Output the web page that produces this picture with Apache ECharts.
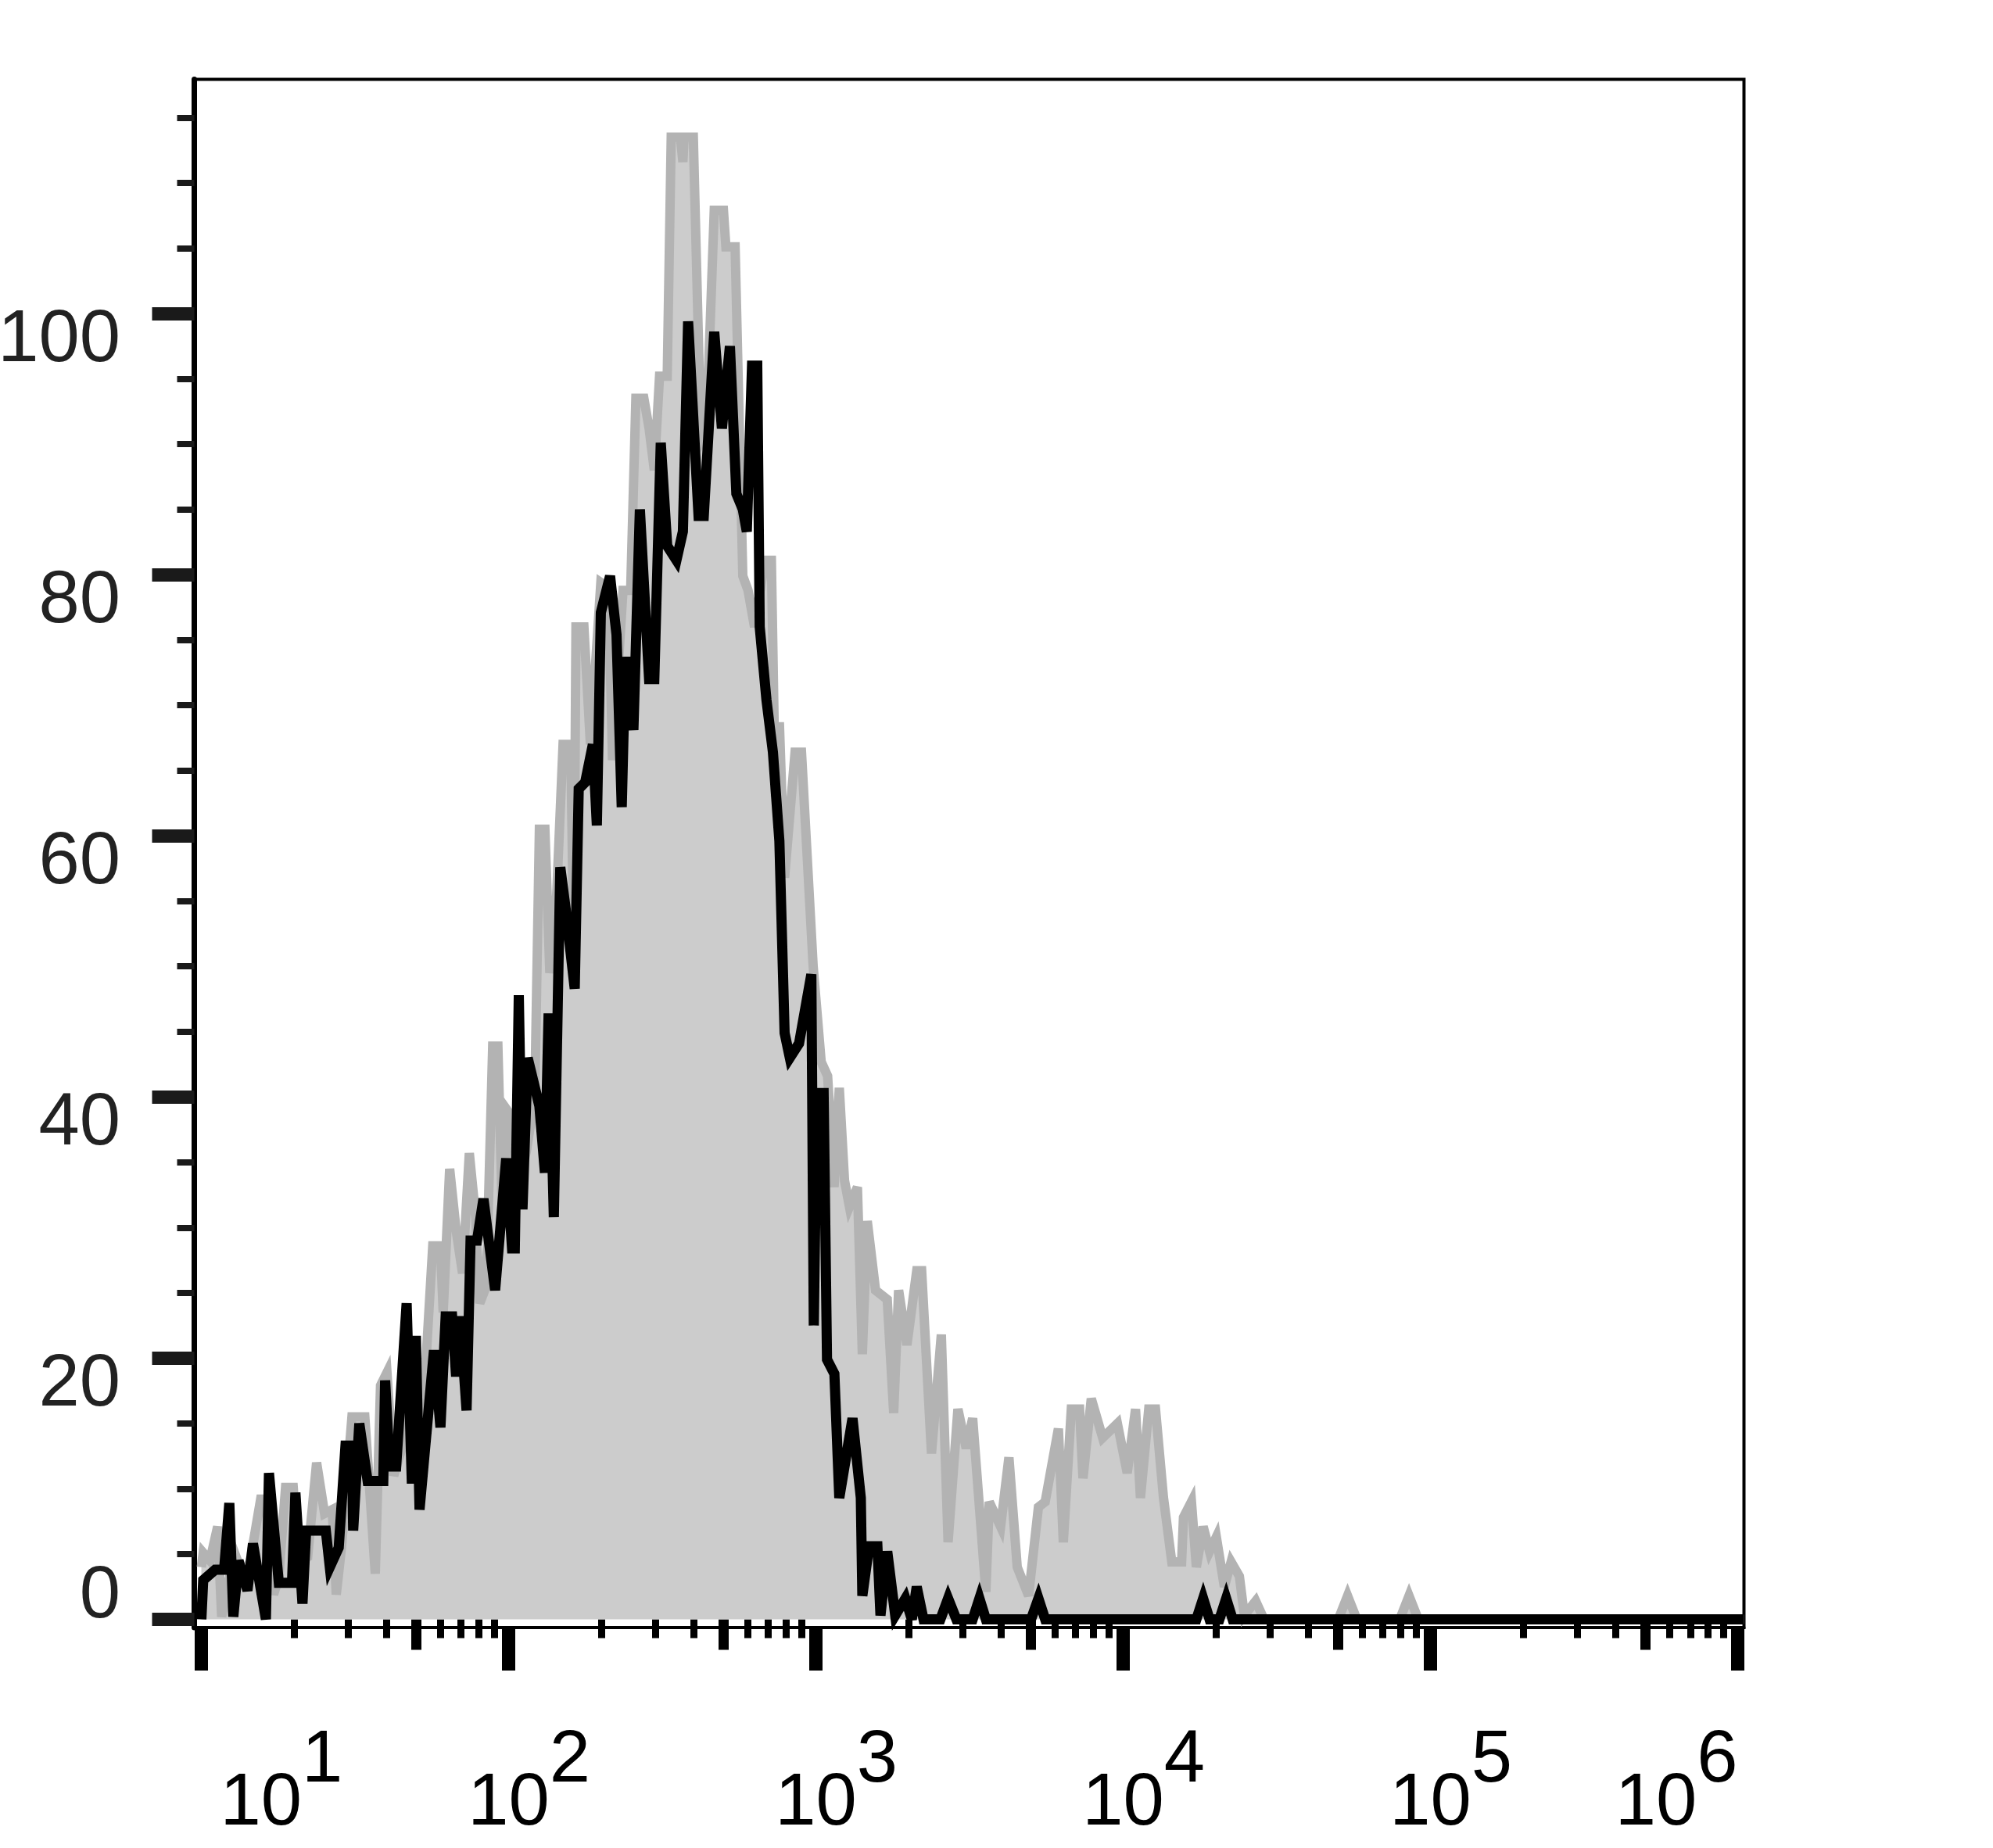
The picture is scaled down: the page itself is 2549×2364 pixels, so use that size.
<!DOCTYPE html>
<html>
<head>
<meta charset="utf-8">
<script src="https://cdn.jsdelivr.net/npm/echarts@6/dist/echarts.min.js"></script>
<style>
  html, body { margin: 0; padding: 0; background: #fff; }
  #chart { width: 2549px; height: 2364px; }
</style>
</head>
<body>
<div id="chart"></div>
<script>
// Fluorescence intensity is given as decade exponent (10^e); counts on y.
const xDecades = [1, 2, 3, 4, 5, 6];
const yMajorTicks = [0, 20, 40, 60, 80, 100];
const yLabelsUpper = [20, 40, 60, 80, 100];
const yLabelsLower = [0];
const yMinorTicks = [5, 10, 15, 25, 30, 35, 45, 50, 55, 65, 70, 75, 85, 90, 95, 105, 110, 115];

// Gray (filled) histogram: exponent and count
const grayE = [1.000,1.006,1.028,1.053,1.066,1.108,1.138,1.159,1.193,1.210,1.235,1.252,1.274,1.299,1.316,1.346,1.375,1.401,1.426,1.439,1.456,1.490,1.532,1.566,1.583,1.604,1.626,1.660,1.685,1.710,1.753,1.778,1.787,1.808,1.829,1.850,1.872,1.893,1.906,1.927,1.948,1.965,1.980,1.995,2.010,2.030,2.058,2.085,2.100,2.118,2.134,2.150,2.177,2.202,2.212,2.219,2.245,2.266,2.300,2.325,2.338,2.372,2.397,2.414,2.440,2.457,2.474,2.491,2.516,2.529,2.559,2.567,2.571,2.601,2.626,2.643,2.669,2.699,2.707,2.737,2.762,2.779,2.800,2.834,2.855,2.868,2.881,2.898,2.932,2.953,2.991,3.017,3.038,3.050,3.059,3.076,3.093,3.109,3.135,3.151,3.167,3.194,3.232,3.253,3.269,3.296,3.328,3.344,3.376,3.408,3.430,3.462,3.489,3.510,3.553,3.564,3.601,3.628,3.655,3.692,3.724,3.746,3.789,3.805,3.831,3.858,3.869,3.896,3.933,3.981,4.013,4.040,4.056,4.083,4.105,4.131,4.158,4.190,4.196,4.222,4.238,4.260,4.281,4.303,4.329,4.351,4.378,4.394,4.431,4.458,4.700,4.730,4.760,4.900,4.930,4.960,6.020];
const grayY = [4.0,5.1,4.5,7.1,0.2,5.1,3.2,4.5,9.2,9.2,1.9,3.2,10.1,10.1,4.5,4.8,12.0,8.1,8.4,1.9,5.5,15.5,15.5,3.5,17.9,18.9,11.0,13.7,17.6,11.4,28.6,28.6,23.5,34.5,29.8,26.5,35.7,30.7,24.2,25.5,43.9,43.9,30.5,39.0,38.5,33.0,35.9,40.0,60.5,60.5,49.5,52.0,67.0,67.0,51.0,76.0,76.0,67.0,79.4,79.0,65.8,78.8,78.8,93.5,93.5,91.2,88.0,95.2,95.2,113.5,113.5,111.6,113.5,113.5,90.1,90.7,107.9,107.9,105.1,105.1,79.9,78.8,76.0,81.1,81.1,63.0,68.7,56.8,66.4,66.4,50.0,42.7,41.6,36.9,33.1,40.7,33.6,31.6,33.1,20.3,30.5,25.2,24.5,15.8,25.2,21.0,26.7,26.7,12.7,21.8,5.9,16.1,13.1,15.4,2.1,9.0,7.1,12.4,4.0,1.8,8.6,9.0,14.6,5.9,16.1,16.1,10.8,16.9,13.9,15.0,11.2,16.1,9.3,16.1,16.1,9.3,4.4,4.4,7.8,9.0,4.0,7.1,5.2,6.3,2.5,4.4,3.3,0.3,1.4,0,0,1.8,0,0,1.8,0,0];

// Black (line) histogram: exponent and count
const blackE = [1.000,1.006,1.045,1.074,1.091,1.104,1.121,1.150,1.168,1.210,1.220,1.252,1.295,1.306,1.329,1.341,1.405,1.418,1.447,1.469,1.490,1.494,1.514,1.541,1.592,1.598,1.613,1.634,1.668,1.685,1.698,1.710,1.757,1.778,1.795,1.816,1.829,1.842,1.863,1.876,1.897,1.918,1.956,1.992,2.011,2.020,2.033,2.045,2.062,2.100,2.118,2.130,2.147,2.168,2.185,2.215,2.228,2.249,2.274,2.287,2.300,2.330,2.351,2.368,2.380,2.406,2.427,2.457,2.474,2.495,2.516,2.546,2.567,2.584,2.618,2.635,2.669,2.694,2.720,2.741,2.762,2.775,2.792,2.809,2.817,2.839,2.860,2.881,2.898,2.915,2.945,2.985,2.993,3.003,3.025,3.036,3.060,3.076,3.119,3.146,3.151,3.173,3.200,3.210,3.232,3.258,3.291,3.312,3.328,3.350,3.405,3.430,3.457,3.510,3.532,3.553,3.700,3.724,3.746,4.238,4.260,4.281,4.313,4.335,4.356,6.020];
const blackY = [0,3.0,3.8,3.8,8.9,0.2,4.5,2.2,5.8,0,11.2,2.8,2.8,9.7,1.2,6.8,6.8,4.0,5.5,13.3,13.3,6.8,15.0,10.6,10.6,18.3,11.7,11.7,24.2,10.4,21.7,8.4,20.6,14.7,23.2,23.2,18.6,23.2,16.0,29.0,29.0,32.2,25.2,35.3,28.4,28.4,47.8,31.4,43.0,39.3,34.2,46.4,30.8,57.6,54.5,48.3,63.6,64.1,67.0,60.8,77.1,79.9,75.4,62.2,73.7,68.1,85.0,72.0,72.0,90.1,82.2,81.1,83.3,99.4,84.5,84.5,98.6,91.2,97.5,86.2,85.0,83.3,96.0,96.0,76.0,70.4,66.4,59.6,44.9,43.0,44.1,49.4,22.5,40.3,40.3,19.9,18.8,9.3,15.4,9.3,1.8,5.6,5.6,0.3,5.2,0.3,1.6,0,2.5,0,0,1.6,0,0,1.6,0,0,1.6,0,0,1.6,0,0,1.6,0,0];

const grayData = grayE.map((e, i) => [e, grayY[i]]);
const blackData = blackE.map((e, i) => [e, blackY[i]]);

const X_MIN = 0.977, X_MAX = 6.020;
const Y_MIN = -0.63, Y_MAX = 117.93;
const FONT = "'Liberation Sans', Arial, sans-serif";

const log10 = Math.log10;
const xMid = xDecades.slice(0, -1).map(d => d + log10(5));
const xMinor = [];
xDecades.slice(0, -1).forEach(d => [2, 3, 4, 6, 7, 8, 9].forEach(k => xMinor.push(d + log10(k))));

function hiddenX(ticks, len, w) {
  return {
    type: 'value', min: X_MIN, max: X_MAX, position: 'bottom', gridIndex: 0,
    axisLine: { show: false },
    axisTick: { show: true, inside: false, length: len, customValues: ticks, lineStyle: { color: '#000', width: w } },
    axisLabel: { show: false }, splitLine: { show: false }
  };
}

const baseStyle = { fontSize: 94, fontFamily: FONT, color: '#000', lineHeight: 149, verticalAlign: 'bottom' };

const chart = echarts.init(document.getElementById('chart'), null, { renderer: 'canvas' });
chart.setOption({
  animation: false,
  backgroundColor: '#ffffff',
  grid: {
    left: 248.5, top: 101.5, right: 2549 - 2230.5, bottom: 2364 - 2082,
    outerBoundsMode: 'none', containLabel: false,
    show: true, borderColor: '#000', borderWidth: 4, backgroundColor: 'transparent'
  },
  xAxis: [
    {
      type: 'value', min: X_MIN, max: X_MAX, position: 'bottom',
      axisLine: { show: true, onZero: false, lineStyle: { color: '#000', width: 4 } },
      axisTick: { show: true, inside: false, length: 55, customValues: xDecades, lineStyle: { color: '#000', width: 17 } },
      axisLabel: {
        show: true, customValues: xDecades, margin: 124.5,
        alignMinLabel: 'left', alignMaxLabel: 'right',
        formatter: v => (v === xDecades[0] ? '{b0|10}' : '{b|10}') + '{s|' + v + '}',
        rich: {
          b0: Object.assign({}, baseStyle, { padding: [0, 0, 0, 24] }),
          b: Object.assign({}, baseStyle, { padding: [0, 0, 0, 52] }),
          s: { fontSize: 94, fontFamily: FONT, color: '#000', lineHeight: 94, verticalAlign: 'top' }
        }
      },
      splitLine: { show: false }
    },
    hiddenX(xMid, 39, 13),
    hiddenX(xMinor, 24, 9)
  ],
  yAxis: [
    {
      type: 'value', min: Y_MIN, max: Y_MAX, position: 'left',
      axisLine: { show: true, onZero: false, lineStyle: { color: '#000', width: 7 } },
      axisTick: { show: true, inside: false, length: 54, customValues: yMajorTicks, lineStyle: { color: '#1a1a1a', width: 17 } },
      axisLabel: {
        show: true, customValues: yLabelsUpper, margin: 94.5, verticalAlign: 'top', lineHeight: 70,
        fontSize: 94, fontFamily: FONT, color: '#222'
      },
      splitLine: { show: false }
    },
    {
      type: 'value', min: Y_MIN, max: Y_MAX, position: 'left',
      axisLine: { show: false }, axisTick: { show: false },
      axisLabel: {
        show: true, customValues: yLabelsLower, margin: 94.5, verticalAlign: 'bottom', lineHeight: 56,
        fontSize: 94, fontFamily: FONT, color: '#222'
      },
      splitLine: { show: false }
    },
    {
      type: 'value', min: Y_MIN, max: Y_MAX, position: 'left',
      axisLine: { show: false },
      axisTick: { show: true, inside: false, length: 22, customValues: yMinorTicks, lineStyle: { color: '#1a1a1a', width: 8 } },
      axisLabel: { show: false }, splitLine: { show: false }
    }
  ],
  series: [
    {
      name: 'control', type: 'line', xAxisIndex: 0, yAxisIndex: 0,
      data: grayData, symbol: 'none', smooth: false,
      lineStyle: { color: '#b3b3b3', width: 12, join: 'miter', miterLimit: 4 },
      areaStyle: { color: '#cccccc', opacity: 1, origin: 0 },
      z: 2
    },
    {
      name: 'sample', type: 'line', xAxisIndex: 0, yAxisIndex: 0,
      data: blackData, symbol: 'none', smooth: false,
      lineStyle: { color: '#000000', width: 13, join: 'miter', miterLimit: 4 },
      z: 3
    }
  ]
});
</script>
</body>
</html>
